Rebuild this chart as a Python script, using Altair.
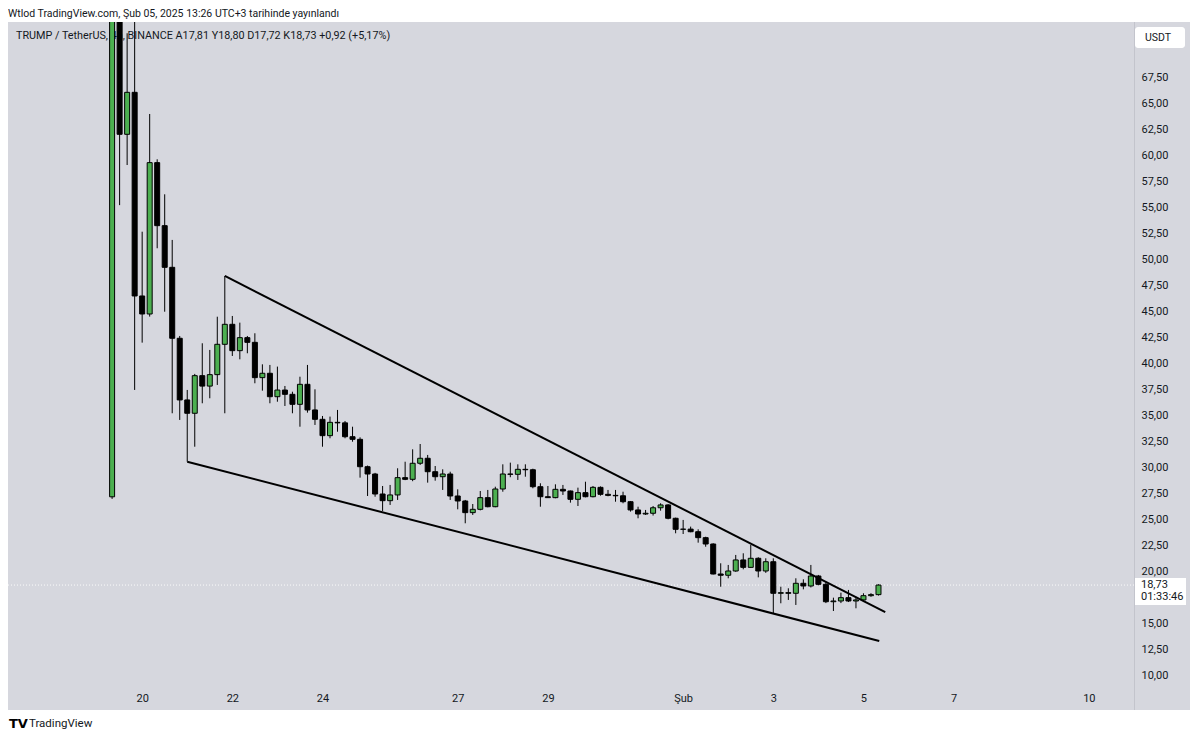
import altair as alt
import pandas as pd

# ---- data: TRUMP / TetherUS 4h candles (index 0 = first bar on Jan 19, 6 bars per day) ----
opens = [27.2, 73.5, 62.0, 66.03, 46.48, 44.75, 59.28, 53.23, 49.23, 42.42,
         36.5, 35.22, 38.83, 37.83, 38.93, 41.84, 43.76, 41.23, 42.48, 42.03,
         38.64, 39.06, 36.81, 37.45, 37.04, 36.08, 38.0, 35.54, 34.64, 33.07,
         34.35, 34.3, 32.97, 32.72, 30.09, 29.39, 27.47, 26.83, 27.38, 29.04,
         28.88, 30.42, 30.9, 29.61, 29.13, 29.39, 27.28, 26.8, 25.68, 26.0,
         27.12, 26.25, 27.95, 29.39, 29.36, 29.84, 29.8, 28.17, 27.21, 27.12,
         27.92, 27.76, 26.96, 27.6, 27.21, 28.11, 27.44, 27.34, 27.3, 26.73,
         25.94, 25.55, 25.62, 26.15, 26.42, 25.14, 24.08, 24.1, 23.85, 23.28,
         22.67, 19.79, 19.67, 20.08, 21.14, 20.43, 21.3, 20.08, 20.97, 17.94,
         18.0, 17.94, 18.9, 18.64, 19.6, 18.8, 17.13, 17.2, 17.52, 17.2,
         17.3, 17.71, 17.81]
highs = [74.5, 74.0, 71.7, 73.0, 52.65, 63.95, 59.6, 56.24, 51.86, 42.64,
         37.46, 39.0, 41.94, 41.3, 44.49, 48.4, 44.56, 43.92, 42.64, 42.9,
         39.92, 39.86, 39.7, 37.84, 37.29, 38.73, 39.86, 37.52, 34.96, 34.9,
         35.54, 34.48, 33.93, 32.91, 30.2, 29.5, 28.24, 28.34, 29.94, 30.57,
         31.76, 32.27, 31.22, 30.16, 29.84, 29.61, 27.92, 26.9, 26.51, 27.76,
         27.86, 28.17, 30.32, 30.48, 30.32, 30.32, 29.9, 28.5, 28.24, 28.4,
         28.34, 27.8, 28.08, 28.65, 28.24, 28.2, 27.86, 27.86, 27.69, 26.8,
         26.25, 25.94, 26.32, 26.58, 26.5, 25.2, 24.98, 24.34, 24.08, 23.37,
         22.74, 20.82, 20.66, 21.62, 21.78, 22.58, 21.4, 21.3, 21.3, 18.57,
         18.42, 19.38, 19.28, 20.66, 19.7, 19.0, 17.52, 18.0, 18.26, 17.61,
         17.94, 17.95, 18.80]
lows = [27.0, 55.2, 59.05, 37.46, 42.0, 44.5, 51.06, 44.97, 35.22, 34.58,
        30.57, 32.01, 36.18, 36.66, 37.94, 35.22, 40.72, 40.4, 40.98, 38.1,
        37.39, 36.18, 36.33, 35.92, 35.22, 33.93, 35.28, 34.1, 32.01, 32.82,
        33.45, 32.82, 32.49, 29.04, 27.28, 27.21, 25.84, 26.42, 26.9, 28.8,
        28.7, 30.26, 28.56, 28.75, 27.86, 26.9, 26.0, 24.66, 25.46, 25.9,
        26.19, 26.2, 27.69, 29.08, 28.82, 29.13, 28.02, 26.25, 27.1, 27.06,
        27.38, 26.64, 26.32, 27.15, 27.15, 27.31, 27.25, 26.73, 26.58, 25.78,
        25.14, 25.46, 25.4, 25.87, 25.04, 23.7, 23.63, 23.8, 22.8, 22.41,
        19.75, 18.57, 19.38, 20.0, 20.24, 20.4, 19.47, 19.9, 15.95, 16.98,
        17.3, 16.82, 18.32, 18.5, 18.7, 17.0, 16.24, 17.0, 17.1, 16.5,
        17.1, 17.6, 17.72]
closes = [73.5, 62.0, 66.03, 46.48, 44.75, 59.28, 53.23, 49.23, 42.42, 36.5,
          35.22, 38.83, 37.83, 38.93, 41.84, 43.76, 41.23, 42.48, 42.03, 38.64,
          39.06, 36.81, 37.45, 37.04, 36.08, 38.0, 35.54, 34.64, 33.07, 34.35,
          34.3, 32.97, 32.72, 30.09, 29.39, 27.47, 26.83, 27.38, 29.04, 28.88,
          30.42, 30.9, 29.61, 29.13, 29.39, 27.28, 26.8, 25.68, 26.0, 27.12,
          26.25, 27.95, 29.39, 29.36, 29.84, 29.8, 28.17, 27.21, 27.12, 27.92,
          27.76, 26.96, 27.6, 27.21, 28.11, 27.44, 27.34, 27.3, 26.73, 25.94,
          25.55, 25.62, 26.15, 26.42, 25.14, 24.08, 24.1, 23.85, 23.28, 22.67,
          19.79, 19.67, 20.08, 21.14, 20.43, 21.3, 20.08, 20.97, 17.94, 18.0,
          17.94, 18.9, 18.64, 19.6, 18.8, 17.13, 17.2, 17.52, 17.2, 17.3,
          17.71, 17.81, 18.73]

day_tick_index = [4, 16, 28, 46, 58, 76, 88, 100, 112, 130]
day_tick_labels = ["20", "22", "24", "27", "29", "Şub", "3", "5", "7", "10"]
price_ticks = [10.0, 12.5, 15.0, 20.0, 22.5, 25.0, 27.5, 30.0, 32.5, 35.0, 37.5,
               40.0, 42.5, 45.0, 47.5, 50.0, 52.5, 55.0, 57.5, 60.0, 62.5, 65.0, 67.5]

# falling-wedge trend lines (bar index, price)
upper_line_index = [15.0, 102.9]
upper_line_price = [48.4, 16.14]
lower_line_index = [10.0, 102.1]
lower_line_price = [30.57, 13.36]

header_text = "Wtlod TradingView.com, Şub 05, 2025 13:26 UTC+3 tarihinde yayınlandı"
legend_text = "TRUMP / TetherUS, 4h, BINANCE  A17,81  Y18,80  D17,72  K18,73  +0,92 (+5,17%)"
price_box_value = "18,73"
price_box_timer = "01:33:46"

# ---- build tables ----
candles = pd.DataFrame({
    "i": list(range(len(opens))),
    "o": opens, "h": highs, "l": lows, "c": closes,
})
candles["dir"] = ["up" if c >= o else "down" for o, c in zip(opens, closes)]

trend = pd.DataFrame({
    "i": upper_line_index + lower_line_index,
    "p": upper_line_price + lower_line_price,
    "line": ["upper", "upper", "lower", "lower"],
})
one = pd.DataFrame({"k": [0]})
last = pd.DataFrame({"p": [closes[-1]]})

W, H = 1126, 664
BG = "#d6d7de"
TXT = "#131722"
FONT = "Roboto"

xs = alt.Scale(domain=[-13.19, 135.34], nice=False, zero=False)
ys = alt.Scale(domain=[9.04, 72.78], nice=False, zero=False)

x_expr = " : ".join(f"datum.value == {i} ? '{l}'" for i, l in zip(day_tick_index, day_tick_labels)) + " : ''"

x_axis = alt.Axis(values=day_tick_index, labelExpr=x_expr, title=None, grid=False,
                  domain=False, ticks=False, labelPadding=6, labelFontSize=11,
                  labelColor=TXT, labelFont=FONT, zindex=1)
y_axis = alt.Axis(values=price_ticks, orient="right",
                  labelExpr="replace(format(datum.value, '.2f'), '.', ',')",
                  title=None, grid=False, domain=False, ticks=False, labelPadding=7,
                  labelFontSize=11, labelColor=TXT, labelFont=FONT, zindex=1)

bg = alt.Chart(one).mark_rect(color=BG).encode(
    x=alt.value(0), x2=alt.value(1182), y=alt.value(0), y2=alt.value(688))
sep_v = alt.Chart(one).mark_rule(color="#c3c4cc", strokeWidth=1).encode(
    x=alt.value(W + 0.5), y=alt.value(0), y2=alt.value(688))

header = alt.Chart(one).mark_text(align="left", baseline="alphabetic", fontSize=10.5,
                                  font=FONT, color=TXT).encode(
    x=alt.value(0), y=alt.value(-5), text=alt.value(header_text))
legend = alt.Chart(one).mark_text(align="left", baseline="middle", fontSize=10.8,
                                  font=FONT, color=TXT).encode(
    x=alt.value(8), y=alt.value(14), text=alt.value(legend_text))

price_line = alt.Chart(last).mark_rule(color="#ffffff", strokeDash=[1, 2], strokeWidth=1,
                                       opacity=0.9).encode(
    y=alt.Y("p:Q", scale=ys, axis=y_axis), x=alt.value(0), x2=alt.value(W))

wicks = alt.Chart(candles).mark_rule(color="#000000", strokeWidth=1, clip=True).encode(
    x=alt.X("i:Q", scale=xs, axis=x_axis),
    y=alt.Y("l:Q", scale=ys, axis=y_axis),
    y2="h:Q",
)
bodies = alt.Chart(candles).mark_bar(size=5, stroke="#000000", strokeWidth=1, clip=True).encode(
    x=alt.X("i:Q", scale=xs, axis=x_axis),
    y=alt.Y("o:Q", scale=ys, axis=y_axis),
    y2="c:Q",
    color=alt.Color("dir:N", scale=alt.Scale(domain=["up", "down"], range=["#4caf50", "#000000"]),
                    legend=None),
)
lines = alt.Chart(trend).mark_line(color="#000000", strokeWidth=2, clip=True).encode(
    x=alt.X("i:Q", scale=xs, axis=x_axis),
    y=alt.Y("p:Q", scale=ys, axis=y_axis),
    detail="line:N",
)

usdt_box = alt.Chart(one).mark_rect(color="#ffffff", cornerRadius=3).encode(
    x=alt.value(W + 1), x2=alt.value(W + 51), y=alt.value(5), y2=alt.value(26))
usdt_txt = alt.Chart(one).mark_text(align="left", baseline="middle", fontSize=10.5,
                                    font=FONT, color=TXT).encode(
    x=alt.value(W + 11), y=alt.value(16), text=alt.value("USDT"))

pbox = alt.Chart(one).mark_rect(color="#ffffff").encode(
    x=alt.value(W + 1), x2=alt.value(W + 52), y=alt.value(556), y2=alt.value(583))
ptxt1 = alt.Chart(one).mark_text(align="left", baseline="middle", fontSize=11,
                                 font=FONT, color=TXT).encode(
    x=alt.value(W + 7), y=alt.value(563), text=alt.value(price_box_value))
ptxt2 = alt.Chart(one).mark_text(align="left", baseline="middle", fontSize=11,
                                 font=FONT, color=TXT).encode(
    x=alt.value(W + 7), y=alt.value(575), text=alt.value(price_box_timer))

logo = alt.Chart(one).mark_text(align="left", baseline="middle", fontSize=13, fontWeight=900,
                                font="DejaVu Sans", color="#000000").encode(
    x=alt.value(1), y=alt.value(702), text=alt.value("TV"))
brand = alt.Chart(one).mark_text(align="left", baseline="middle", fontSize=11.5,
                                 font=FONT, color=TXT).encode(
    x=alt.value(21), y=alt.value(702), text=alt.value("TradingView"))

chart = alt.layer(
    bg, sep_v, header, legend, price_line, wicks, bodies, lines,
    usdt_box, usdt_txt, pbox, ptxt1, ptxt2, logo, brand,
).properties(
    width=W, height=H,
    autosize=alt.AutoSizeParams(type="none"),
    padding={"left": 0, "top": 14, "right": 57, "bottom": 44},
).configure_view(stroke=None).configure(background="#ffffff")

chart.save("out.html", embed_options={"renderer": "svg", "actions": False})
